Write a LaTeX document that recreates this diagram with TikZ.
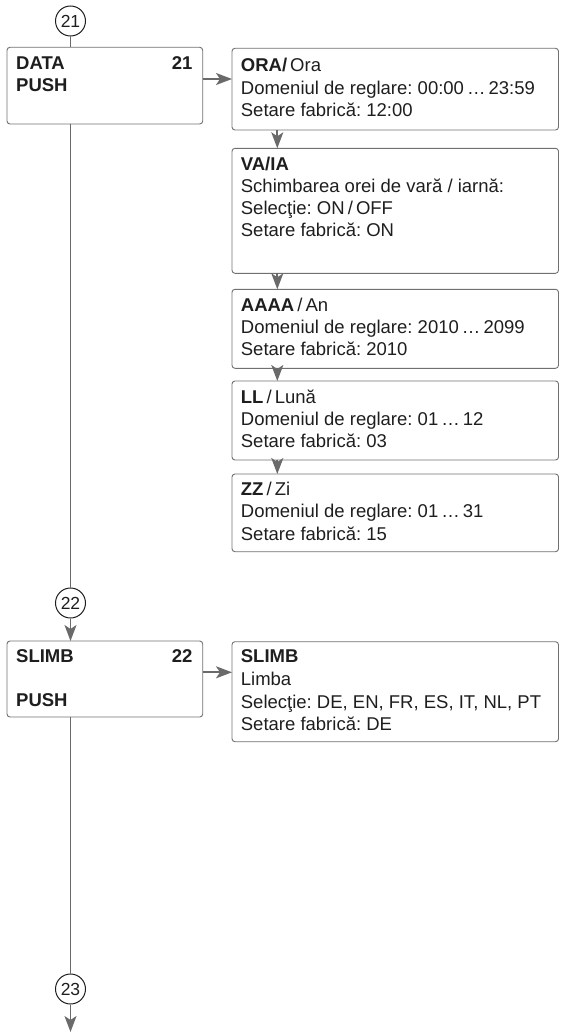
\documentclass[tikz,border=0pt]{standalone}
\usepackage{fontspec}
\setmainfont{Liberation Sans}
\usetikzlibrary{arrows.meta}
\definecolor{linegray}{HTML}{6A6A6A}
\definecolor{boxgray}{HTML}{707070}
\definecolor{txt}{HTML}{1E1E1E}
\frenchspacing
\begin{document}
\begin{tikzpicture}[x=1pt,y=-1pt,
  box/.style={draw=boxgray,line width=0.9pt,rounded corners=3pt,inner sep=0pt,outer sep=0pt,anchor=north west},
  ln/.style={anchor=base west,inner sep=0pt,text=txt,font=\fontsize{18.5}{22}\selectfont\frenchspacing},
  lnb/.style={ln,font=\fontsize{18.5}{22}\selectfont\bfseries},
  lnr/.style={anchor=base east,inner sep=0pt,text=txt,font=\fontsize{18.5}{22}\selectfont\bfseries},
  num/.style={circle,draw=txt,line width=1pt,minimum size=30pt,inner sep=0pt,text=txt,font=\fontsize{17.5}{20}\selectfont},
  conn/.style={draw=linegray,line width=1.8pt},
  arr/.style={conn,-{Stealth[length=16pt,width=12pt,inset=4pt]}}]
\useasboundingbox (0,0) rectangle (560,1033);

% circles
\node[num] (c21) at (70.5,21) {21};
\node[num] (c22) at (70.5,603) {22};
\node[num] (c23) at (70.5,989) {23};
\coordinate (end) at (70.5,1032);

% left boxes
\node[box,minimum width=195.7pt,minimum height=76.7pt] (data) at (7,47.3) {};
\node[lnb] (dataA) at (16,69.5) {DATA};
\node[lnb] (dataB) at (16,91.5) {PUSH};
\node[lnr] (dataN) at (192.7,69.5) {21};

\node[box,minimum width=195.7pt,minimum height=76pt] (slL) at (7,641) {};
\node[lnb] (slLA) at (16,662.3) {SLIMB};
\node[lnb] (slLB) at (16,706.7) {PUSH};
\node[lnr] (slLN) at (192.7,662.3) {22};

% right boxes
\node[box,minimum width=326.5pt,minimum height=81.7pt] (ora) at (232,48.3) {};
\node[ln] (ora1) at (240.7,71.5) {\textbf{ORA/}\,Ora};
\node[ln] (ora2) at (240.7,94) {Domeniul de reglare: 00:00\,…\,23:59};
\node[ln] (ora3) at (240.7,116.5) {Setare fabrică: 12:00};

\node[box,minimum width=326.5pt,minimum height=125pt] (va) at (232,148.3) {};
\node[ln] (va1) at (240.7,170.7) {\textbf{VA/IA}};
\node[ln] (va2) at (240.7,192.5) {Schimbarea orei de vară / iarnă:};
\node[ln] (va3) at (240.7,214.7) {Selecţie: ON\,/\,OFF};
\node[ln] (va4) at (240.7,236.7) {Setare fabrică: ON};

\node[box,minimum width=326.5pt,minimum height=79pt] (an) at (232,289.3) {};
\node[ln] (an1) at (240.7,311) {\textbf{AAAA}\,/\,An};
\node[ln] (an2) at (240.7,333.3) {Domeniul de reglare: 2010\,…\,2099};
\node[ln] (an3) at (240.7,355.7) {Setare fabrică: 2010};

\node[box,minimum width=326.5pt,minimum height=79pt] (ll) at (232,381) {};
\node[ln] (ll1) at (240.7,403.3) {\textbf{LL}\,/\,Lună};
\node[ln] (ll2) at (240.7,425.7) {Domeniul de reglare: 01\,…\,12};
\node[ln] (ll3) at (240.7,447.7) {Setare fabrică: 03};

\node[box,minimum width=326.5pt,minimum height=77.7pt] (zz) at (232,474) {};
\node[ln] (zz1) at (240.7,495.5) {\textbf{ZZ}\,/\,Zi};
\node[ln] (zz2) at (240.7,517.5) {Domeniul de reglare: 01\,…\,31};
\node[ln] (zz3) at (240.7,540) {Setare fabrică: 15};

\node[box,minimum width=326.5pt,minimum height=100pt] (slR) at (232,641.7) {};
\node[ln] (slR1) at (240.7,662.3) {\textbf{SLIMB}};
\node[ln] (slR2) at (240.7,685) {Limba};
\node[ln] (slR3) at (240.7,708.3) {Selecţie: DE, EN, FR, ES, IT, NL, PT};
\node[ln] (slR4) at (240.7,730.7) {Setare fabrică: DE};

% connectors
\draw[conn] (c21.south) -- (c21.south |- data.north);
\draw[conn] (c21.south |- data.south) -- (c22.north);
\draw[arr] (c22.south) -- (c22.south |- slL.north);
\draw[conn] (c22.south |- slL.south) -- (c23.north);
\draw[arr] (c23.south) -- (end);

\draw[arr] ([yshift=-31.7pt]data.north east) -- ([yshift=-31.7pt]data.north east -| ora.west);
\draw[arr] ([yshift=-31.3pt]slL.north east) -- ([yshift=-31.3pt]slL.north east -| slR.west);

\draw[arr] ([xshift=45.3pt]ora.south west) -- ([xshift=45.3pt]va.north west);
\draw[arr] ([xshift=45.3pt]va.south west) -- ([xshift=45.3pt]an.north west);
\draw[arr] ([xshift=45.3pt]an.south west) -- ([xshift=45.3pt]ll.north west);
\draw[arr] ([xshift=45.3pt]ll.south west) -- ([xshift=45.3pt]zz.north west);
\end{tikzpicture}
\end{document}
